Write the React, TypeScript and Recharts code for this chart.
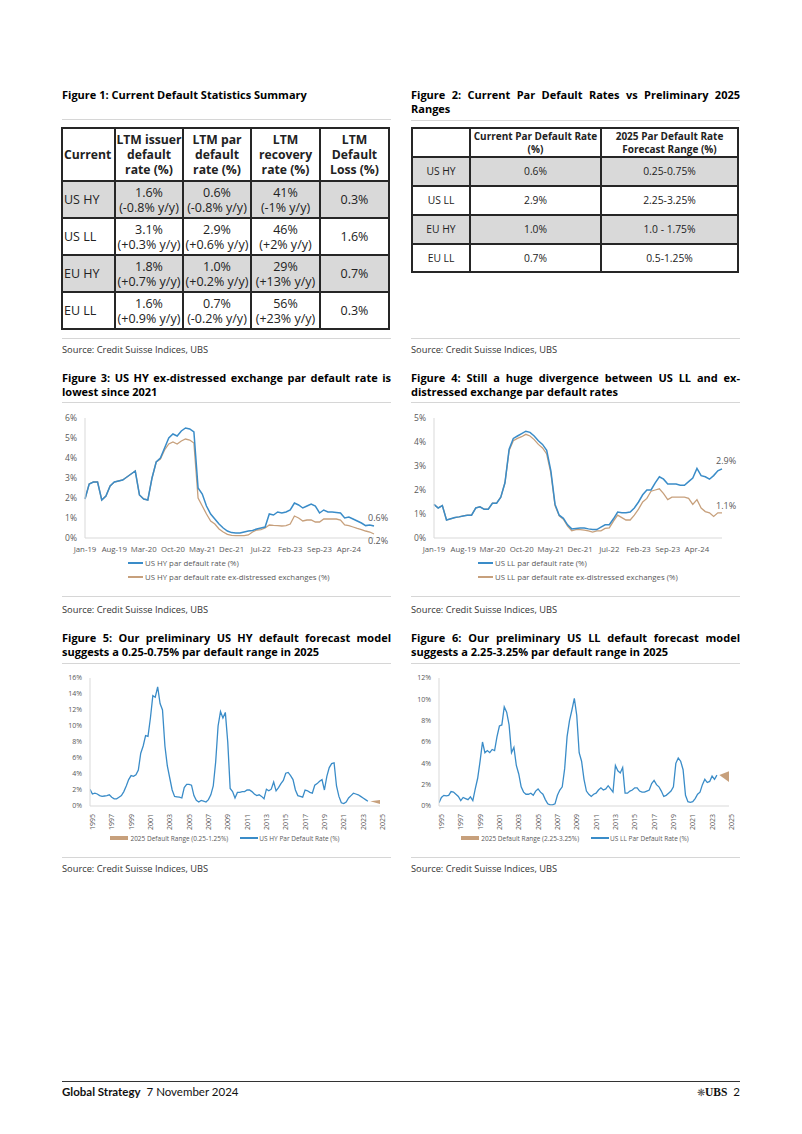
import { LineChart, Line, XAxis, YAxis, Legend, ComposedChart, Area } from 'recharts'

const FONT = '"Open Sans", "Noto Sans", sans-serif'
const BLUE = '#3A8CC8'
const TAN = '#C7A07C'
const AXIS = '#D9D9D9'
const TICK = '#595959'
const SHADE = '#D9D9D9'

// Figure 1 table
const T1_HEAD = [['Current'], ['LTM issuer', 'default', 'rate (%)'], ['LTM par', 'default', 'rate (%)'], ['LTM', 'recovery', 'rate (%)'], ['LTM', 'Default', 'Loss (%)']]
const T1_ROWS = ['US HY', 'US LL', 'EU HY', 'EU LL']
const T1_ISSUER = [['1.6%', '(-0.8% y/y)'], ['3.1%', '(+0.3% y/y)'], ['1.8%', '(+0.7% y/y)'], ['1.6%', '(+0.9% y/y)']]
const T1_PAR = [['0.6%', '(-0.8% y/y)'], ['2.9%', '(+0.6% y/y)'], ['1.0%', '(+0.2% y/y)'], ['0.7%', '(-0.2% y/y)']]
const T1_RECOVERY = [['41%', '(-1% y/y)'], ['46%', '(+2% y/y)'], ['29%', '(+13% y/y)'], ['56%', '(+23% y/y)']]
const T1_LOSS = ['0.3%', '1.6%', '0.7%', '0.3%']

// Figure 2 table
const T2_HEAD = [[''], ['Current Par Default Rate', '(%)'], ['2025 Par Default Rate', 'Forecast Range (%)']]
const T2_CURRENT = ['0.6%', '2.9%', '1.0%', '0.7%']
const T2_RANGE = ['0.25-0.75%', '2.25-3.25%', '1.0 - 1.75%', '0.5-1.25%']

// Figures 3 and 4: monthly, Jan-19 onwards
const MONTH_NAMES = ['Jan', 'Feb', 'Mar', 'Apr', 'May', 'Jun', 'Jul', 'Aug', 'Sep', 'Oct', 'Nov', 'Dec']
const HY_PAR = [1.95, 2.7, 2.8, 2.8, 1.9, 2.1, 2.6, 2.8, 2.85, 2.9, 3.05, 3.2, 3.35, 2.15, 1.95, 1.9, 3.0, 3.8, 4.0, 4.5,
  5.0, 5.2, 5.1, 5.35, 5.5, 5.45, 5.3, 2.5, 2.2, 1.6, 1.2, 0.95, 0.7, 0.5, 0.35, 0.27, 0.25, 0.25, 0.3, 0.35,
  0.38, 0.45, 0.5, 0.55, 1.2, 1.15, 1.3, 1.25, 1.3, 1.4, 1.75, 1.65, 1.5, 1.6, 1.7, 1.6, 1.25, 1.4, 1.3, 1.3,
  1.28, 1.25, 1.0, 1.05, 0.95, 0.85, 0.75, 0.62, 0.65, 0.6]
const HY_EX = [1.95, 2.7, 2.8, 2.8, 1.9, 2.1, 2.6, 2.8, 2.85, 2.9, 3.05, 3.2, 3.35, 2.15, 1.95, 1.9, 3.0, 3.8, 3.95, 4.4,
  4.7, 4.8, 4.7, 4.85, 4.95, 4.9, 4.75, 2.0, 1.6, 1.2, 0.85, 0.7, 0.45, 0.3, 0.18, 0.13, 0.12, 0.12, 0.12, 0.15,
  0.3, 0.4, 0.42, 0.5, 0.65, 0.63, 0.62, 0.6, 0.62, 0.7, 1.1, 1.0, 0.85, 0.9, 0.9, 0.8, 0.8, 0.95, 0.95, 0.95,
  0.95, 0.9, 0.65, 0.62, 0.55, 0.48, 0.42, 0.35, 0.3, 0.2]
const LL_PAR = [1.4, 1.25, 1.35, 0.75, 0.8, 0.85, 0.88, 0.92, 0.95, 0.95, 1.25, 1.3, 1.2, 1.2, 1.45, 1.45, 1.7, 2.3, 3.7, 4.15,
  4.25, 4.35, 4.45, 4.4, 4.25, 4.05, 3.9, 3.65, 2.8, 1.4, 0.95, 0.82, 0.55, 0.38, 0.4, 0.42, 0.42, 0.38, 0.35, 0.35,
  0.45, 0.55, 0.55, 0.8, 1.08, 1.05, 1.05, 1.08, 1.25, 1.5, 1.8, 2.0, 2.0, 2.3, 2.55, 2.45, 2.25, 2.25, 2.25, 2.2,
  2.2, 2.35, 2.5, 2.9, 2.6, 2.55, 2.45, 2.6, 2.8, 2.88]
const LL_EX = [1.4, 1.25, 1.35, 0.75, 0.8, 0.85, 0.88, 0.92, 0.95, 0.95, 1.25, 1.3, 1.2, 1.2, 1.45, 1.45, 1.7, 2.3, 3.65, 4.05,
  4.15, 4.22, 4.32, 4.25, 4.1, 3.9, 3.75, 3.5, 2.7, 1.35, 0.92, 0.78, 0.5, 0.3, 0.35, 0.35, 0.33, 0.3, 0.25, 0.3,
  0.3, 0.4, 0.42, 0.7, 0.95, 0.85, 0.75, 0.75, 0.95, 1.2, 1.5, 1.65, 1.95, 2.0, 2.05, 1.85, 1.6, 1.7, 1.7, 1.7,
  1.7, 1.65, 1.4, 1.6, 1.25, 1.1, 1.05, 0.9, 1.05, 1.05]

// Figures 5 and 6: quarterly from 1995
const LONG_START = 1995
const HY_LONG = [2.1, 1.5, 1.6, 1.5, 1.3, 1.2, 1.25, 1.3, 1.4, 1.1, 0.9, 0.9, 1.1, 1.3, 1.8, 2.5,
  3.3, 3.8, 3.7, 3.9, 4.5, 6.6, 7.5, 8.8, 8.7, 11.0, 13.8, 13.6, 14.9, 12.8, 12.0, 7.5,
  5.0, 3.5, 2.0, 1.2, 1.15, 1.1, 1.0, 2.3, 2.7, 2.7, 2.6, 1.3, 0.7, 0.5, 0.7, 0.6,
  0.5, 0.8, 1.4, 2.5, 5.5, 10.0, 11.8, 11.0, 11.7, 8.0, 2.2, 1.8, 1.0, 1.7, 1.7, 1.8,
  1.8, 2.0, 2.0, 1.8, 1.5, 1.3, 1.4, 1.2, 0.9, 2.1, 1.9, 2.1, 3.0, 1.9, 2.3, 2.8,
  3.2, 4.1, 4.2, 3.8, 3.3, 2.0, 1.3, 1.2, 1.1, 2.0, 1.9, 1.7, 1.6, 2.6, 2.8, 3.1,
  3.3, 2.0, 3.7, 4.8, 5.3, 5.4, 2.5, 1.2, 0.4, 0.3, 0.5, 1.0, 1.3, 1.6, 1.5, 1.4,
  1.2, 1.0, 0.8, 0.6]
const LL_LONG = [0.3, 0.8, 1.0, 0.95, 1.0, 1.35, 1.3, 1.1, 0.9, 0.5, 0.8, 0.7, 0.6, 0.85, 0.5, 1.6,
  2.6, 4.2, 6.0, 5.0, 5.2, 5.0, 5.3, 5.2, 6.5, 7.5, 7.6, 9.3, 8.8, 7.6, 5.0, 5.5,
  3.8, 3.0, 1.8, 1.3, 1.1, 1.1, 1.2, 1.0, 1.4, 1.6, 1.3, 1.1, 0.6, 0.2, 0.1, 0.1,
  0.2, 1.0, 1.5, 1.8, 3.5, 6.5, 8.0, 9.0, 10.1, 8.5, 5.0, 4.2, 2.5, 1.4, 1.1, 0.9,
  1.1, 1.2, 1.5, 1.7, 1.5, 1.6, 1.9, 1.6, 1.3, 3.8, 3.3, 3.1, 3.6, 1.2, 1.2, 1.4,
  1.5, 1.7, 1.7, 1.4, 1.3, 1.3, 1.4, 1.5, 2.1, 2.4, 2.0, 1.8, 1.4, 0.9, 1.0, 1.2,
  1.4, 1.8, 4.0, 4.5, 4.2, 3.4, 1.0, 0.4, 0.35, 0.4, 0.7, 1.1, 1.3, 2.0, 2.5, 2.2,
  2.3, 2.8, 2.5, 2.9]
// forecast cones: [year, low, high]
const HY_RANGE = [[2024, 0.6, 0.6], [2025, 0.25, 0.75]]
const LL_RANGE = [[2024, 2.9, 2.9], [2025, 2.25, 3.25]]
const YEAR_TICKS = [1995, 1997, 1999, 2001, 2003, 2005, 2007, 2009, 2011, 2013, 2015, 2017, 2019, 2021, 2023, 2025]

const pct = (v: number) => `${v}%`

function Title({ x, y, lines, justify }: { x: number; y: number; lines: string[]; justify: number }) {
  return (
    <div style={{ position: 'absolute', left: x, top: y, width: 329, fontWeight: 700, fontSize: 11, lineHeight: '14px', color: '#000' }}>
      {lines.map((l, i) => (
        <div key={i} style={{ whiteSpace: 'nowrap', textAlign: i < justify ? 'justify' : 'left', textAlignLast: i < justify ? 'justify' : 'left' }}>{l}</div>
      ))}
    </div>
  )
}

function Rule({ x, y, color = '#D6D6D6' }: { x: number; y: number; color?: string }) {
  return <div style={{ position: 'absolute', left: x, top: y, width: 329, height: 1, background: color }} />
}

function Source({ x, y }: { x: number; y: number }) {
  return <div style={{ position: 'absolute', left: x, top: y, fontSize: 9.3, color: '#333', whiteSpace: 'nowrap' }}>Source: Credit Suisse Indices, UBS</div>
}

// simple ruled grid; cells[r][c] is a list of text lines
function Grid({ cols, rows, cells, shaded, fontSize, headSize, lineH, leftFirst }: {
  cols: number[]; rows: number[]; cells: string[][][]; shaded: number[]; fontSize: number; headSize: number; lineH: number; leftFirst: boolean
}) {
  const items = []
  cells.forEach((row, r) => {
    row.forEach((lines, c) => {
      const left = cols[c], top = rows[r], w = cols[c + 1] - cols[c], h = rows[r + 1] - rows[r]
      items.push(
        <div key={`c${r}-${c}`} style={{
          position: 'absolute', left, top, width: w, height: h, background: shaded.includes(r) ? SHADE : 'transparent',
          display: 'flex', flexDirection: 'column', justifyContent: 'center', alignItems: leftFirst && c === 0 ? 'flex-start' : 'center',
          paddingLeft: leftFirst && c === 0 ? 2 : 0, boxSizing: 'border-box',
          fontSize: r === 0 ? headSize : fontSize, lineHeight: `${lineH}px`, fontWeight: r === 0 ? 700 : 400, color: '#222', whiteSpace: 'nowrap',
        }}>
          {lines.map((t, k) => <div key={k}>{t}</div>)}
        </div>
      )
    })
  })
  const x0 = cols[0], x1 = cols[cols.length - 1], y0 = rows[0], y1 = rows[rows.length - 1]
  cols.forEach((cx, i) => items.push(<div key={`v${i}`} style={{ position: 'absolute', left: cx - 1, top: y0 - 1, width: 2, height: y1 - y0 + 2, background: '#262626' }} />))
  rows.forEach((ry, i) => items.push(<div key={`h${i}`} style={{ position: 'absolute', left: x0 - 1, top: ry - 1, width: x1 - x0 + 2, height: 2, background: '#262626' }} />))
  return <>{items}</>
}

function endTag(last: number, text: string, color: string, dy: number) {
  return (p: any) => {
    if (p.index !== last) return <g key={p.key ?? `d${p.index}`} />
    return (
      <g key={`tag-${text}`}>
        <text x={p.cx - 6} y={p.cy + dy} fontSize={9} fill={color} fontFamily={FONT}>{text}</text>
      </g>
    )
  }
}

function LegendRows({ items }: { items: { name: string; color: string }[] }) {
  return (
    <div style={{ fontFamily: FONT, fontSize: 7.8, color: TICK }}>
      {items.map(it => (
        <div key={it.name} style={{ display: 'flex', alignItems: 'center', height: 14, whiteSpace: 'nowrap' }}>
          <span style={{ display: 'inline-block', width: 15, height: 2, background: it.color, marginRight: 2 }} />
          {it.name}
        </div>
      ))}
    </div>
  )
}

function RecentChart({ left, par, ex, yTicks, yWidth, right, parTag, exTag, exDy, parName, exName }: {
  left: number; par: number[]; ex: number[]; yTicks: number[]; yWidth: number; right: number
  parTag: string; exTag: string; exDy: number; parName: string; exName: string
}) {
  const data = par.map((v, i) => ({ month: `${MONTH_NAMES[i % 12]}-${19 + Math.floor(i / 12)}`, par: v, ex: ex[i] }))
  const last = data.length - 1
  return (
    <div style={{ position: 'absolute', left, top: 405 }}>
      <LineChart width={340} height={185} data={data} margin={{ top: 13, right, bottom: 32, left: 0 }}>
        <XAxis dataKey="month" interval={6} tickLine={false} axisLine={{ stroke: AXIS }} height={20}
          tick={{ fontSize: 7.8, fill: TICK, fontFamily: FONT }} />
        <YAxis domain={[0, yTicks[yTicks.length - 1]]} ticks={yTicks} tickFormatter={pct} width={yWidth} tickLine={false}
          axisLine={{ stroke: AXIS }} tick={{ fontSize: 8.5, fill: TICK, fontFamily: FONT }} />
        <Line dataKey="ex" name={exName} stroke={TAN} strokeWidth={1.3} isAnimationActive={false}
          dot={endTag(last, exTag, TICK, exDy)} activeDot={false} />
        <Line dataKey="par" name={parName} stroke={BLUE} strokeWidth={1.5} isAnimationActive={false}
          dot={endTag(last, parTag, TICK, -5)} activeDot={false} />
        <Legend layout="vertical" align="center" verticalAlign="middle" wrapperStyle={{ left: 68, top: 151, width: 260 }}
          content={() => <LegendRows items={[{ name: parName, color: BLUE }, { name: exName, color: TAN }]} />} />
      </LineChart>
    </div>
  )
}

function LongChart({ left, values, range, yTicks, yWidth, rangeName, lineName }: {
  left: number; values: number[]; range: number[][]; yTicks: number[]; yWidth: number; rangeName: string; lineName: string
}) {
  const line = values.map((v, i) => ({ x: LONG_START + i / 4, v }))
  const band = range.map(([x, lo, hi]) => ({ x, band: [lo, hi] }))
  return (
    <div style={{ position: 'absolute', left, top: 668, width: 330, height: 185 }}>
      <ComposedChart width={330} height={162} margin={{ top: 10, right: 330 - yWidth - 290, bottom: 2, left: 0 }}>
        <XAxis type="number" dataKey="x" domain={[1995, 2025]} ticks={YEAR_TICKS} allowDataOverflow tickLine={false}
          axisLine={{ stroke: AXIS }} angle={-90} textAnchor="end" height={22} interval={0}
          tick={{ fontSize: 7, fill: TICK, fontFamily: FONT }} />
        <YAxis domain={[0, yTicks[yTicks.length - 1]]} ticks={yTicks} tickFormatter={pct} width={yWidth} tickLine={false}
          axisLine={{ stroke: AXIS }} tick={{ fontSize: 7, fill: TICK, fontFamily: FONT }} />
        <Area data={band} dataKey="band" type="linear" stroke="none" fill={TAN} fillOpacity={1} isAnimationActive={false} activeDot={false} />
        <Line data={line} dataKey="v" stroke={BLUE} strokeWidth={1.3} dot={false} isAnimationActive={false} activeDot={false} />
      </ComposedChart>
      {/* legend sits under the rotated year labels */}
      <div style={{ position: 'absolute', left: 0, top: 165, width: 330, display: 'flex', justifyContent: 'center', alignItems: 'center', height: 10, fontFamily: FONT, fontSize: 6.5, color: TICK, whiteSpace: 'nowrap' }}>
        <span style={{ display: 'inline-block', width: 18, height: 4, background: TAN, marginRight: 2 }} />
        <span style={{ marginRight: 12 }}>{rangeName}</span>
        <span style={{ display: 'inline-block', width: 18, height: 2, background: BLUE, marginRight: 1 }} />
        <span>{lineName}</span>
      </div>
    </div>
  )
}

export default function App() {
  const t1Cells = [
    T1_HEAD,
    ...T1_ROWS.map((r, i) => [[r], T1_ISSUER[i], T1_PAR[i], T1_RECOVERY[i], [T1_LOSS[i]]]),
  ]
  const t2Cells = [
    T2_HEAD,
    ...T1_ROWS.map((r, i) => [[r], [T2_CURRENT[i]], [T2_RANGE[i]]]),
  ]
  return (
    <div style={{ position: 'absolute', left: 0, top: 0, width: 802, height: 1134, background: '#fff', fontFamily: FONT, overflow: 'hidden' }}>
      {/* row 1: tables */}
      <Title x={62} y={88} lines={['Figure 1: Current Default Statistics Summary']} justify={0} />
      <Rule x={62} y={119} />
      <Grid cols={[62, 115, 183, 251, 320, 389]} rows={[128, 181, 218, 255, 292, 329]} cells={t1Cells} shaded={[1, 3]}
        fontSize={12.5} headSize={12.2} lineH={15} leftFirst />
      <Rule x={62} y={338} />
      <Source x={62} y={343} />

      <Title x={411} y={88} lines={['Figure 2: Current Par Default Rates vs Preliminary 2025', 'Ranges']} justify={1} />
      <Rule x={411} y={120} />
      <Grid cols={[412, 470, 601, 738]} rows={[128, 157, 186, 215, 244, 272]} cells={t2Cells} shaded={[1, 3]}
        fontSize={10.3} headSize={10} lineH={13} leftFirst={false} />
      <Rule x={411} y={338} />
      <Source x={411} y={343} />

      {/* row 2: recent history */}
      <Title x={62} y={371} lines={['Figure 3: US HY ex-distressed exchange par default rate is', 'lowest since 2021']} justify={1} />
      <Rule x={62} y={402} />
      <RecentChart left={60} par={HY_PAR} ex={HY_EX} yTicks={[0, 1, 2, 3, 4, 5, 6]} yWidth={25} right={26}
        parTag="0.6%" exTag="0.2%" exDy={10} parName="US HY par default rate (%)" exName="US HY par default rate ex-distressed exchanges (%)" />
      <Rule x={62} y={596} />
      <Source x={62} y={603} />

      <Title x={411} y={371} lines={['Figure 4: Still a huge divergence between US LL and ex-', 'distressed exchange par default rates']} justify={1} />
      <Rule x={411} y={402} />
      <RecentChart left={410} par={LL_PAR} ex={LL_EX} yTicks={[0, 1, 2, 3, 4, 5]} yWidth={24} right={28}
        parTag="2.9%" exTag="1.1%" exDy={-4} parName="US LL par default rate (%)" exName="US LL par default rate ex-distressed exchanges (%)" />
      <Rule x={411} y={596} />
      <Source x={411} y={603} />

      {/* row 3: long run */}
      <Title x={62} y={631} lines={['Figure 5: Our preliminary US HY default forecast model', 'suggests a 0.25-0.75% par default range in 2025']} justify={1} />
      <Rule x={62} y={663} />
      <LongChart left={60} values={HY_LONG} range={HY_RANGE} yTicks={[0, 2, 4, 6, 8, 10, 12, 14, 16]} yWidth={30}
        rangeName="2025 Default Range (0.25-1.25%)" lineName="US HY Par Default Rate (%)" />
      <Rule x={62} y={857} />
      <Source x={62} y={862} />

      <Title x={411} y={631} lines={['Figure 6: Our preliminary US LL default forecast model', 'suggests a 2.25-3.25% par default range in 2025']} justify={1} />
      <Rule x={411} y={663} />
      <LongChart left={410} values={LL_LONG} range={LL_RANGE} yTicks={[0, 2, 4, 6, 8, 10, 12]} yWidth={29}
        rangeName="2025 Default Range (2.25-3.25%)" lineName="US LL Par Default Rate (%)" />
      <Rule x={411} y={857} />
      <Source x={411} y={862} />

      {/* footer */}
      <div style={{ position: 'absolute', left: 62, top: 1081, width: 678, height: 1, background: '#333' }} />
      <div style={{ position: 'absolute', left: 62, top: 1085, fontFamily: 'Lato, sans-serif', fontSize: 11.5, color: '#111', whiteSpace: 'nowrap' }}>
        <b>Global Strategy</b>&nbsp; 7 November 2024
      </div>
      <div style={{ position: 'absolute', left: 690, top: 1085, width: 50, textAlign: 'right', fontFamily: 'Lato, sans-serif', fontSize: 11.5, color: '#111', whiteSpace: 'nowrap' }}>
        <span style={{ fontSize: 10, color: '#555' }}>❋</span>
        <span style={{ fontFamily: '"Liberation Serif", serif', fontWeight: 700 }}>UBS</span>&nbsp; 2
      </div>
    </div>
  )
}
